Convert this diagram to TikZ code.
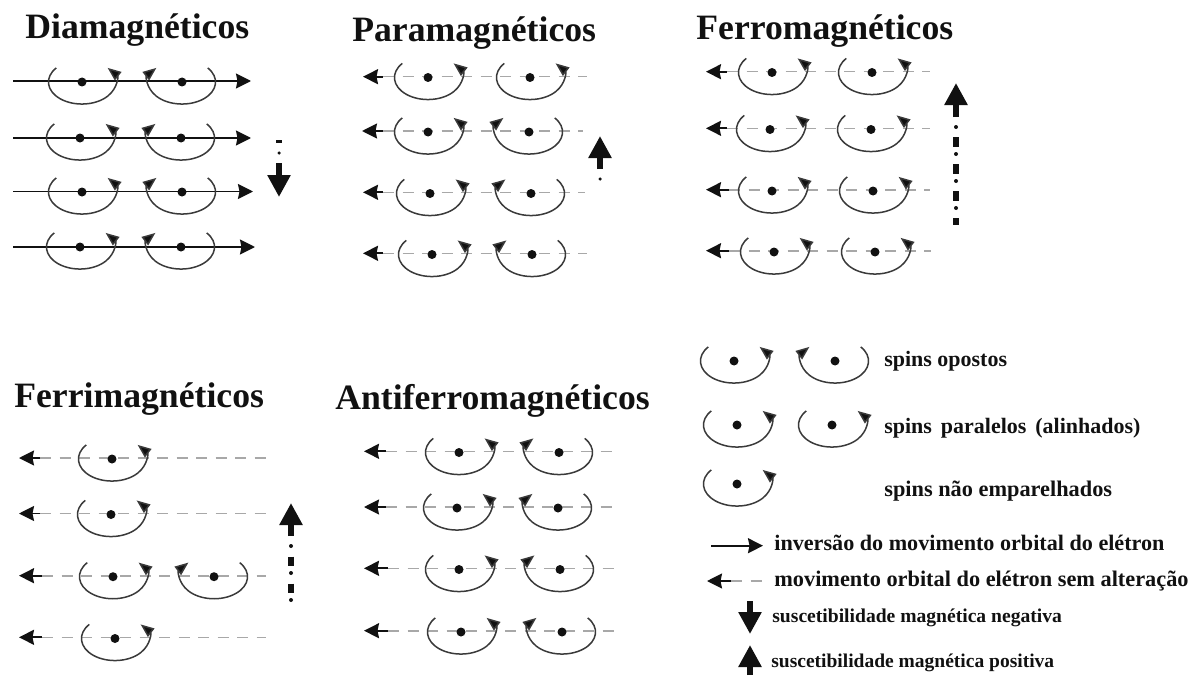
\documentclass[tikz,border=0pt]{standalone}
\usepackage{fontspec}
\setmainfont{Liberation Serif}
\usetikzlibrary{arrows.meta}
\definecolor{mgink}{HTML}{111111}
\definecolor{mgorbit}{HTML}{3A3A3A}
\definecolor{mggray}{HTML}{A8A8A8}

\newcommand{\orbitR}[3]{\node[nucleus] (#1) at (#2,-#3) {};
  \draw[orbit] (#1.center) ++(-25.7,14.1) arc[start angle=140,end angle=400,x radius=33.5,y radius=22];}
\newcommand{\orbitL}[3]{\node[nucleus] (#1) at (#2,-#3) {};
  \draw[orbit] (#1.center) ++(25.7,14.1) arc[start angle=40,end angle=-220,x radius=33.5,y radius=22];}
\newcommand{\axisL}[5]{\coordinate (#1a) at (#2,-#5); \coordinate (#1b) at (#3,-#5); \coordinate (#1c) at (#4,-#5);
  \draw[axisgray] (#1b) -- (#1c);
  \draw[axisblack] (#1b) -- (#1a);}
\newcommand{\axisR}[4]{\coordinate (#1a) at (#2,-#4); \coordinate (#1b) at (#3,-#4);
  \draw[axisblack] (#1a) -- (#1b);}

\begin{document}
\begin{tikzpicture}[
  x=0.2mm, y=0.2mm,
  title/.style={anchor=base west, inner sep=0pt, text=mgink, font=\bfseries\fontsize{20.3}{24}\selectfont},
  legtext/.style={anchor=base west, inner sep=0pt, text=mgink, font=\bfseries\fontsize{#1}{#1}\selectfont},
  nucleus/.style={circle, fill=mgink, draw=none, inner sep=0pt, minimum size=1.8mm},
  orbit/.style={draw=mgorbit, line width=0.3mm, -{Triangle[length=2.7mm,width=2.1mm,fill=mgink]}},
  axisgray/.style={draw=mggray, line width=0.32mm, dash pattern=on 2.2mm off 1.7mm},
  axisblack/.style={draw=mgink, line width=0.36mm, -{Stealth[length=3mm,width=3mm,inset=0.3mm]}},
  bigarrow/.style={draw=mgink, line width=1.3mm, -{Triangle[length=4.4mm,width=4.4mm]}},
  tailsq/.style={draw=mgink, line width=1.3mm, dash pattern=on 1.9mm off 3.5mm},
  taildot/.style={draw=mgink, line width=0.8mm, line cap=round, dash pattern=on 0pt off 5.4mm},
]
\useasboundingbox (0,0) rectangle (1197,-675);

% ---- titles ----
\node[title] (tdia) at (25,-39) {Diamagnéticos};
\node[title] (tpara) at (352,-42) {Paramagnéticos};
\node[title] (tferro) at (696,-40) {Ferromagnéticos};
\node[title] (tferri) at (14,-407) {Ferrimagnéticos};
\node[title] (tanti) at (335,-409) {Antiferromagnéticos};

% ---- Diamagneticos ----
\axisR{da}{13}{251}{81} \orbitR{da1}{82}{82} \orbitL{da2}{182}{82}
\axisR{db}{13}{251}{138} \orbitR{db1}{80}{138} \orbitL{db2}{181}{138}
\axisR{dc}{13}{253}{191.5} \orbitR{dc1}{82}{192} \orbitL{dc2}{182}{192}
\axisR{dd}{13}{255}{247} \orbitR{dd1}{80}{247} \orbitL{dd2}{181}{247}
\coordinate (darrA) at (279,-163); \coordinate (darrB) at (279,-197);
\draw[bigarrow] (darrA) -- (darrB);
\node[rectangle, fill=mgink, minimum width=1.2mm, minimum height=0.7mm, inner sep=0pt] (dsq) at (279,-141.5) {};
\node[circle, fill=mgink, minimum size=0.7mm, inner sep=0pt] (ddot) at (279,-153) {};

% ---- Paramagneticos ----
\axisL{pa}{363}{383}{587}{76.7} \orbitR{pa1}{428}{77.5} \orbitR{pa2}{530}{77.5}
\axisL{pb}{362}{383}{583}{131} \orbitR{pb1}{428}{132} \orbitL{pb2}{529}{132}
\axisL{pc}{363}{383}{585}{192.3} \orbitR{pc1}{430}{193.5} \orbitL{pc2}{531}{193.5}
\axisL{pd}{363}{383}{587}{253.3} \orbitR{pd1}{432}{254.5} \orbitL{pd2}{532}{254.5}
\coordinate (parrA) at (600,-169); \coordinate (parrB) at (600,-136);
\draw[bigarrow] (parrA) -- (parrB);
\node[circle, fill=mgink, minimum size=0.7mm, inner sep=0pt] (pdot) at (600,-179) {};

% ---- Ferromagneticos ----
\axisL{fa}{706}{727}{930}{71.7} \orbitR{fa1}{772}{72.5} \orbitR{fa2}{872}{72.5}
\axisL{fb}{706}{727}{930}{128.3} \orbitR{fb1}{770}{129.5} \orbitR{fb2}{871}{129.5}
\axisL{fc}{706}{729}{930}{189.7} \orbitR{fc1}{772}{191} \orbitR{fc2}{873}{191}
\axisL{fd}{706}{729}{931}{250.7} \orbitR{fd1}{774}{252} \orbitR{fd2}{875}{252}
\coordinate (farrA) at (956,-117); \coordinate (farrB) at (956,-83);
\draw[bigarrow] (farrA) -- (farrB);
\coordinate (fsqA) at (956,-137); \coordinate (fsqB) at (956,-225);
\draw[tailsq] (fsqA) -- (fsqB);
\coordinate (fdotA) at (956,-127); \coordinate (fdotB) at (956,-209);
\draw[taildot] (fdotA) -- (fdotB);

% ---- Ferrimagneticos ----
\axisL{ia}{19}{40}{266}{458} \orbitR{ia1}{112}{459}
\axisL{ib}{19}{40}{266}{513.5} \orbitR{ib1}{111}{514.5}
\axisL{ic}{19}{42}{266}{575.7} \orbitR{ic1}{113}{576.7} \orbitL{ic2}{214}{576.7}
\axisL{id}{19}{42}{266}{637.3} \orbitR{id1}{115}{638.5}
\coordinate (iarrA) at (291,-536); \coordinate (iarrB) at (291,-503);
\draw[bigarrow] (iarrA) -- (iarrB);
\coordinate (isqA) at (291,-556.5); \coordinate (isqB) at (291,-594);
\draw[tailsq] (isqA) -- (isqB);
\coordinate (idotA) at (291,-546); \coordinate (idotB) at (291,-601);
\draw[taildot] (idotA) -- (idotB);

% ---- Antiferromagneticos ----
\axisL{aa}{364}{386}{613}{451.3} \orbitR{aa1}{459}{452.5} \orbitL{aa2}{559}{452.5}
\axisL{ab}{364}{386}{613}{507} \orbitR{ab1}{457}{508} \orbitL{ab2}{558}{508}
\axisL{ac}{364}{388}{614}{568.3} \orbitR{ac1}{459}{569.5} \orbitL{ac2}{560}{569.5}
\axisL{ad}{364}{388}{614}{630.7} \orbitR{ad1}{461}{632} \orbitL{ad2}{562}{632}

% ---- legend ----
\orbitR{la1}{734}{361} \orbitL{la2}{835}{361}
\node[legtext=12.5] (lta) at (884,-366) {spins opostos};
\orbitR{lb1}{737}{425} \orbitR{lb2}{832}{425}
\node[legtext=12.5] (ltb) at (884,-433) {spins\hspace{2pt} paralelos\hspace{2pt} (alinhados)};
\orbitR{lc1}{737}{484}
\node[legtext=12.7] (ltc) at (884,-496) {spins não emparelhados};
\coordinate (lra) at (711,-545.7); \coordinate (lrb) at (763,-545.7);
\draw[axisblack] (lra) -- (lrb);
\node[legtext=12.6] (ltd) at (774,-550) {inversão do movimento orbital do elétron};
\axisL{lm}{707}{731}{765}{581}
\node[legtext=12.7] (lte) at (774,-586) {movimento orbital do elétron sem alteração};
\coordinate (ldA) at (750,-601); \coordinate (ldB) at (750,-634);
\draw[bigarrow] (ldA) -- (ldB);
\node[legtext=11.15] (ltf) at (772,-622) {suscetibilidade magnética negativa};
\coordinate (luA) at (750,-675); \coordinate (luB) at (750,-645);
\draw[bigarrow] (luA) -- (luB);
\node[legtext=11.1] (ltg) at (771,-667) {suscetibilidade magnética positiva};

\end{tikzpicture}
\end{document}
